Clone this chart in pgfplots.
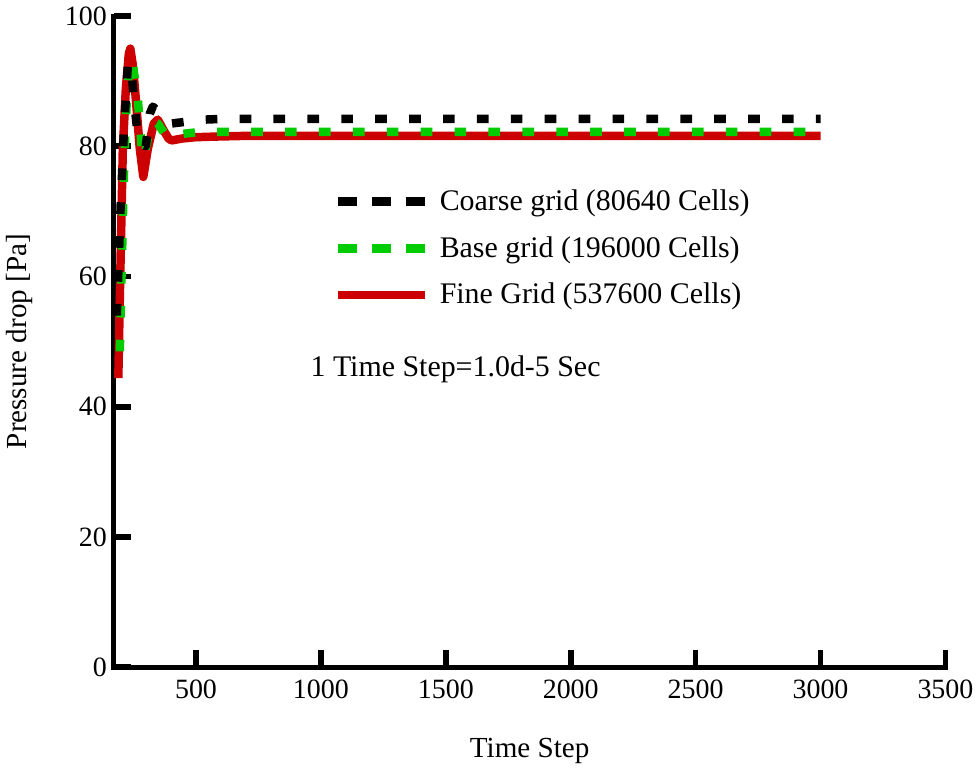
\documentclass[border=0pt]{standalone}
\usepackage{fontspec}
\setmainfont{Liberation Serif}
\usepackage{pgfplots}
\pgfplotsset{compat=1.18}
\definecolor{myred}{RGB}{204,0,0}
\definecolor{mygreen}{RGB}{0,204,0}
\pgfplotsset{
 solidleg/.style={legend image code/.code={\draw[##1] (0pt,0pt) -- (43.5pt,0pt);}},
 dashleg/.style={legend image code/.code={\draw[##1, dash pattern=on 9.5pt off 7.5pt] (0pt,0pt) -- (43.5pt,0pt);}},
}
\begin{document}
\begin{tikzpicture}
\begin{axis}[
 scale only axis, width=417pt, height=326.5pt,
 xmin=171, xmax=3500, ymin=0, ymax=100,
 axis x line*=bottom, axis y line*=left,
 axis line style={line width=2.5pt, line cap=rect, black},
 xtick={500,1000,...,3500}, ytick={0,20,...,100},
 tick align=inside, major tick length=8.5pt,
 tick style={line width=2.8pt, black},
 /pgf/number format/1000 sep={},
 /pgf/number format/assume math mode=true,
 tick label style={font=\fontsize{14}{16}\selectfont},
 xticklabel style={yshift=-3pt},
 label style={font=\fontsize{14.6}{17}\selectfont},
 xlabel={Time Step}, ylabel={Pressure drop [Pa]},
 xlabel style={at={(axis description cs:0.5,-0.128)}, anchor=center},
 ylabel style={at={(axis description cs:-0.113,0.5)}, anchor=center},
 legend style={at={(axis cs:1049,74)}, anchor=north west, draw=none, fill=none, inner sep=0pt,
   font=\fontsize{15}{17}\selectfont, row sep=7.5pt,
   /tikz/every odd column/.append style={column sep=3.5pt}},
 legend cell align=left,
 reverse legend,
]
\addplot[myred, line width=4.25pt, line join=round, solidleg] coordinates {
(189,44.4)(195,56.7)(207,79.6)(219,88.8)(231,94.2)(237,95.0)(247,92.5)(259,87.3)(275,79.6)(289,75.3)(307,79.6)(331,83.5)(347,84.1)(371,82.4)(390,81.2)(402,80.9)(446,81.2)(500,81.4)(586,81.5)(700,81.6)(3000,81.6)
};
\addlegendentry{Fine Grid (537600 Cells)}
\addplot[mygreen, line width=4.25pt, line join=round, dash pattern=on 5.85pt off 11.15pt, dashleg] coordinates {
(195,48.5)(203,62)(213,78)(225,89)(235,93)(243,93.7)(253,91)(267,87.3)(283,79.6)(291,78.1)(307,81.2)(327,83.9)(347,83.5)(382,81.5)(446,81.9)(514,82.2)(3000,82.2)
};
\addlegendentry{Base grid (196000 Cells)}
\addplot[black, line width=4.25pt, line join=round, dash pattern=on 5.85pt off 11.15pt, dashleg] coordinates {
(183,54)(199,71.5)(211,82)(219,87.3)(227,92.3)(235,92.8)(243,91)(251,87.3)(267,81.6)(287,80.2)(299,80)(315,85)(327,86.1)(367,84.7)(402,83.5)(534,84.1)(600,84.2)(3000,84.2)
};
\addlegendentry{Coarse grid (80640 Cells)}
\node[anchor=west, inner sep=0pt, font=\fontsize{15}{17}\selectfont] at (axis cs:957,45.8) {1 Time Step=1.0d-5 Sec};
\end{axis}
\end{tikzpicture}
\end{document}
